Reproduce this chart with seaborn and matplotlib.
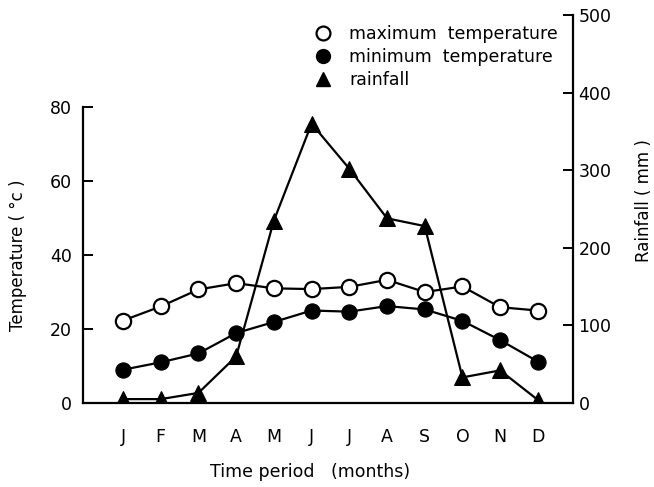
import numpy as np
import pandas as pd
import matplotlib
matplotlib.use("Agg")
import matplotlib.pyplot as plt
from matplotlib.lines import Line2D
import seaborn as sns

months = ["J", "F", "M", "A", "M", "J", "J", "A", "S", "O", "N", "D"]
max_temp = [22.3, 26.1, 30.7, 32.4, 31.0, 30.8, 31.4, 33.3, 30.0, 31.5, 25.9, 25.0]
min_temp = [9.0, 11.0, 13.4, 18.9, 21.9, 25.0, 24.7, 26.2, 25.3, 22.2, 17.0, 11.2]
rainfall = [5, 5, 13, 60, 235, 360, 302, 238, 228, 33, 42, 4]

temp_ticks = [0, 20, 40, 60, 80]
rain_ticks = [0, 100, 200, 300, 400, 500]

sns.set_theme(style="white")
plt.rcParams["font.family"] = ["DejaVu Sans"]
plt.rcParams["text.color"] = "black"

df = pd.DataFrame({"pos": np.arange(len(months)), "month": months,
                   "max": max_temp, "min": min_temp, "rain": rainfall})

fig = plt.figure(figsize=(6.54, 4.87), dpi=100)
ax = fig.add_axes([0.127, 0.1725, 0.749, 0.7966])
ax2 = ax.twinx()

lw = 1.6
sns.lineplot(data=df, x="pos", y="max", ax=ax, color="black", lw=lw,
             marker="o", markersize=11, markerfacecolor="white",
             markeredgecolor="black", markeredgewidth=1.6, sort=False)
sns.lineplot(data=df, x="pos", y="min", ax=ax, color="black", lw=lw,
             marker="o", markersize=11, markerfacecolor="black",
             markeredgecolor="black", sort=False)
sns.lineplot(data=df, x="pos", y="rain", ax=ax2, color="black", lw=lw,
             marker="^", markersize=12, markerfacecolor="black",
             markeredgecolor="black", sort=False)

ax.set_xlim(-1.06, 11.93)
ax.set_ylim(0, 104.9)
ax2.set_ylim(0, 500)

ax.set_xticks(df["pos"])
ax.set_xticklabels(months)
ax.set_yticks(temp_ticks)
ax2.set_yticks(rain_ticks)

for a in (ax, ax2):
    a.spines["top"].set_visible(False)
    for s in a.spines.values():
        s.set_color("black")
        s.set_linewidth(1.6)
ax.spines["right"].set_visible(False)
ax2.spines["left"].set_visible(False)
ax2.spines["bottom"].set_visible(False)
ax.spines["left"].set_bounds(0, 80)

ax.tick_params(axis="x", direction="in", length=6, width=1.4, pad=18,
               labelsize=12.5, colors="black")
ax.tick_params(axis="y", direction="in", length=7, width=1.4, pad=8,
               labelsize=12.5, colors="black", left=True)
ax2.tick_params(axis="y", direction="in", length=7, width=1.4, pad=4,
                labelsize=12.5, colors="black", right=True)

ax.set_xlabel("Time period   (months)", fontsize=12.5, color="black")
ax.set_ylabel("Temperature ( °c )", fontsize=12, color="black")
ax2.set_ylabel("Rainfall ( mm )", fontsize=12, color="black")
ax.xaxis.set_label_coords(0.463, -0.155)
ax.yaxis.set_label_coords(-0.115, 0.381)
ax2.yaxis.set_label_coords(1.126, 0.523)

handles = [
    Line2D([], [], ls="none", marker="o", markersize=10, markerfacecolor="white",
           markeredgecolor="black", markeredgewidth=1.6),
    Line2D([], [], ls="none", marker="o", markersize=10, markerfacecolor="black",
           markeredgecolor="black"),
    Line2D([], [], ls="none", marker="^", markersize=10, markerfacecolor="black",
           markeredgecolor="black"),
]
labels = ["maximum  temperature", "minimum  temperature", "rainfall"]
leg = fig.legend(handles, labels, loc="upper left", bbox_to_anchor=(0.465, 0.97),
                 frameon=False, fontsize=12.5, handlelength=1.0, handletextpad=1.0,
                 labelspacing=0.3, borderaxespad=0.2)
for t in leg.get_texts():
    t.set_color("black")

fig.savefig("out.png", dpi=100, facecolor="white")
